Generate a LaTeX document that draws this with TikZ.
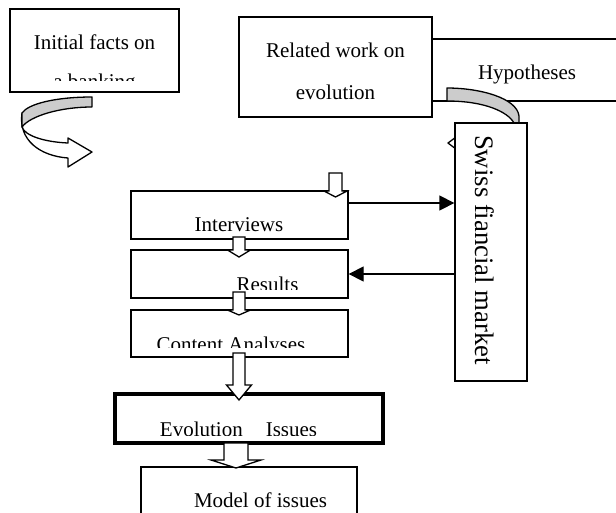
\documentclass[tikz,border=0pt]{standalone}
\usepackage{fontspec}
\setmainfont{Liberation Serif}
\usetikzlibrary{positioning,arrows.meta,calc}
% block arrow pointing down: x, stem top, head base, tip, stem half width, head half width
\newcommand{\blockdown}[6]{%
  \draw[blockarrow] (#1-#5,#2) -- (#1+#5,#2) -- (#1+#5,#3) -- (#1+#6,#3)
    -- (#1,#4) -- (#1-#6,#3) -- (#1-#5,#3) -- cycle;}

\begin{document}
\begin{tikzpicture}[x=1pt,y=-1pt,
    box/.style={draw,line width=1.3pt,fill=white,inner sep=0pt},
    txt/.style={font=\fontsize{21}{25}\selectfont,inner sep=0pt,anchor=base},
    conn/.style={line width=1.3pt,-{Triangle[length=15pt,width=15pt]}},
    blockarrow/.style={draw,line width=1.3pt,fill=white,line join=miter},
    curl/.style={draw,line width=1.3pt,line join=round}]
    \path[use as bounding box,clip] (0,0) rectangle (616,512);

    % Initial facts
    \node[box,minimum width=169pt,minimum height=83pt] (facts) at (94.5,50.5) {};
    \begin{scope}
        \clip (facts.north west) rectangle ([yshift=12pt]facts.south east);
        \node[txt] (facts_a) at (94.5,49) {Initial facts on};
        \node[txt] (facts_b) at (94.5,88) {a banking};
    \end{scope}

    % Curved arrow below the facts
    \draw[curl,fill=white] (22,113) .. controls (18,140) and (40,156) .. (68,158)
        -- (68,167) -- (92,152) -- (68,138) -- (68,143)
        .. controls (45,142) and (25,136) .. (22,127) -- cycle;
    \draw[curl,fill=gray!40] (92,97) .. controls (55,97) and (28,104) .. (22,113)
        -- (22,127) .. controls (30,116) and (60,107) .. (92,107) -- cycle;

    % Hypotheses behind related work
    \node[box,minimum width=197pt,minimum height=62pt] (hypo) at (523.5,70) {};
    \node[txt] (hypo_t) at (527,79) {Hypotheses};
    \node[box,minimum width=193pt,minimum height=100pt] (related) at (335.5,67) {};
    \node[txt] (related_a) at (335.5,57) {Related work on};
    \node[txt] (related_b) at (335.5,99) {evolution};

    % Grey bent arrow towards the market
    \draw[curl,fill=gray!40] (447,88) .. controls (480,88) and (517,98) .. (519,116)
        -- (519,123) -- (514,123) .. controls (508,112) and (485,101) .. (447,101) -- cycle;
    \draw[curl,fill=white] (456,137) -- (448,143) -- (456,149);

    % Swiss market
    \node[box,minimum width=72pt,minimum height=258pt] (swiss) at (491,252) {};
    \node[txt,rotate=-90,font=\fontsize{26.7}{30}\selectfont] (swiss_t) at (475,250)
        {Swiss fiancial market};

    % Steps
    \node[box,minimum width=217pt,minimum height=48pt] (interviews) at (239.5,215) {};
    \begin{scope}
        \clip (interviews.north west) rectangle ([yshift=8pt]interviews.south east);
        \node[txt] (interviews_t) at (239,231) {Interviews};
    \end{scope}
    \node[box,minimum width=217pt,minimum height=48pt] (results) at (239.5,274) {};
    \begin{scope}
        \clip (results.north west) rectangle ([yshift=9pt]results.south east);
        \node[txt] (results_t) at (267.5,291) {Results};
    \end{scope}
    \node[box,minimum width=217pt,minimum height=47pt] (content) at (239.5,333.5) {};
    \begin{scope}
        \clip (content.north west) rectangle ([yshift=10pt]content.south east);
        \node[txt] (content_t) at (231,351) {Content Analyses};
    \end{scope}
    \node[box,line width=4pt,minimum width=268pt,minimum height=49pt] (evolution) at (249,418.5) {};
    \begin{scope}
        \clip (evolution.north west) rectangle ([yshift=10pt]evolution.south east);
        \node[txt] (evolution_t) at (238.5,436) {Evolution\hspace{23pt}Issues};
    \end{scope}
    \node[box,minimum width=216pt,minimum height=60pt] (model) at (249,497) {};
    \begin{scope}
        \clip (model.north west) rectangle ([yshift=19pt]model.south east);
        \node[txt] (model_t) at (260.5,507) {Model of issues};
    \end{scope}

    % Block arrows between the steps
    \blockdown{335.5}{173}{191}{197}{6.5}{11.5}
    \blockdown{239}{237}{250}{257}{6}{11.5}
    \blockdown{239}{292}{310}{315}{6}{11.5}
    \blockdown{239}{353}{385}{400}{6}{12.5}
    \blockdown{236}{443}{460}{468}{12}{25}

    % Exchange with the market
    \draw[conn] ([yshift=12pt]interviews.east) -- ([yshift=12pt]interviews.east -| swiss.west);
    \draw[conn] (swiss.west |- results.east) -- (results.east);
\end{tikzpicture}
\end{document}
